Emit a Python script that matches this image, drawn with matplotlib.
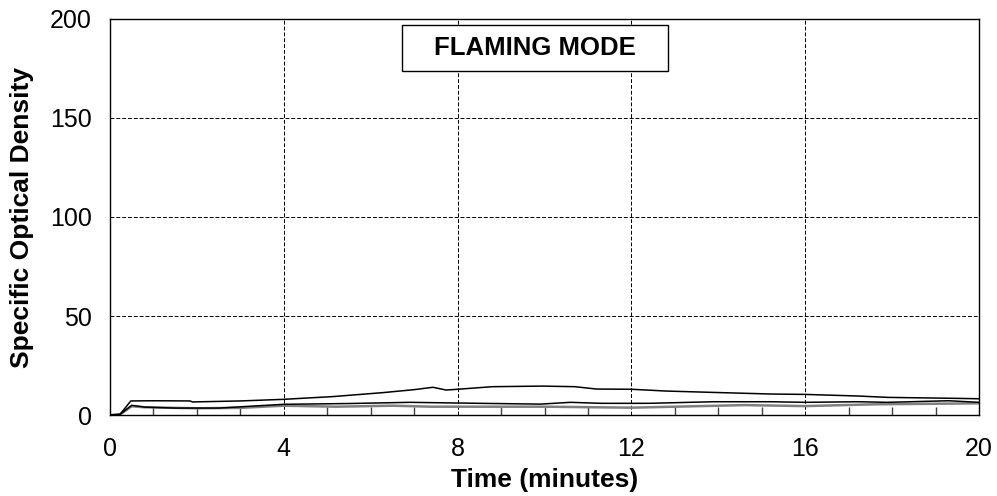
import matplotlib
matplotlib.use("Agg")
import matplotlib.pyplot as plt
from matplotlib.patches import Rectangle
from matplotlib.ticker import MultipleLocator

plt.rcParams['font.family'] = ['Liberation Sans', 'DejaVu Sans']

# Series (time in minutes, specific optical density)
t_top = [0, 0.23, 0.48, 1.0, 1.84, 1.9, 3.0, 3.98, 5.13, 6.28, 7.0, 7.43, 7.74, 8.0, 8.8, 9.95, 10.7, 11.2, 12.0, 12.8, 13.9, 15.2, 16.0, 17.2, 17.9, 19.5, 20]
v_top = [0, 0.3, 7.1, 7.2, 7.1, 6.6, 7.1, 7.9, 9.3, 11.3, 12.8, 14.0, 12.6, 13.0, 14.3, 14.6, 14.3, 13.1, 13.0, 12.1, 11.4, 10.6, 10.4, 9.6, 8.9, 8.4, 8.2]

t_mid = [0, 0.23, 0.5, 0.8, 1.5, 2.5, 4.0, 5.5, 6.9, 8.5, 9.9, 10.6, 11.3, 12.4, 13.9, 15.2, 16.0, 17.2, 17.9, 19.3, 20]
v_mid = [0, 0.3, 4.9, 4.0, 3.5, 3.5, 5.4, 5.8, 6.4, 5.9, 5.5, 6.4, 5.9, 5.9, 6.7, 6.7, 6.4, 6.7, 6.4, 7.2, 6.4]

t_low = [0, 0.23, 0.5, 0.8, 2.0, 3.0, 4.0, 5.2, 6.5, 7.4, 10.0, 12.0, 14.6, 16.0, 17.6, 20]
v_low = [0, 0.3, 4.4, 3.9, 3.4, 3.6, 4.7, 4.2, 4.7, 4.2, 4.2, 3.7, 5.0, 4.5, 5.4, 5.9]

x_ticks = [0, 4, 8, 12, 16, 20]
y_ticks = [0, 50, 100, 150, 200]

fig = plt.figure(figsize=(9.97, 4.96), dpi=100)
ax = fig.add_axes([0.1103, 0.1633, 0.8717, 0.7984])

ax.plot(t_low, v_low, color='#808080', lw=1.8)
ax.plot(t_mid, v_mid, color='black', lw=1.1)
ax.plot(t_top, v_top, color='black', lw=1.1)

ax.set_xlim(0, 20)
ax.set_ylim(0, 200)
ax.set_xticks(x_ticks)
ax.set_yticks(y_ticks)
ax.xaxis.set_minor_locator(MultipleLocator(1))
ax.tick_params(axis='both', which='major', length=0, labelsize=18)
ax.tick_params(axis='y', which='major', pad=13)
ax.tick_params(axis='x', which='major', pad=16)
ax.tick_params(axis='x', which='minor', direction='in', length=6, width=1, color='#404040')
ax.grid(True, which='major', color='black', linestyle=(0, (4, 2)), linewidth=0.7)
for s in ax.spines.values():
    s.set_linewidth(1.0)

fig.text(0.5466, 0.032, 'Time (minutes)', fontsize=19, fontweight='bold', ha='center', va='center')
fig.text(22 / 997, 0.5615, 'Specific Optical Density', fontsize=19, fontweight='bold',
         ha='center', va='center', rotation=90)

rect = Rectangle((0.336, 0.869), 0.306, 0.115, transform=ax.transAxes,
                 facecolor='white', edgecolor='black', linewidth=1.0, zorder=5)
ax.add_patch(rect)
ax.text(0.489, 0.927, 'FLAMING MODE', transform=ax.transAxes, ha='center', va='center',
        fontsize=18.5, fontweight='bold', zorder=6)

fig.savefig('out.png', dpi=100)
